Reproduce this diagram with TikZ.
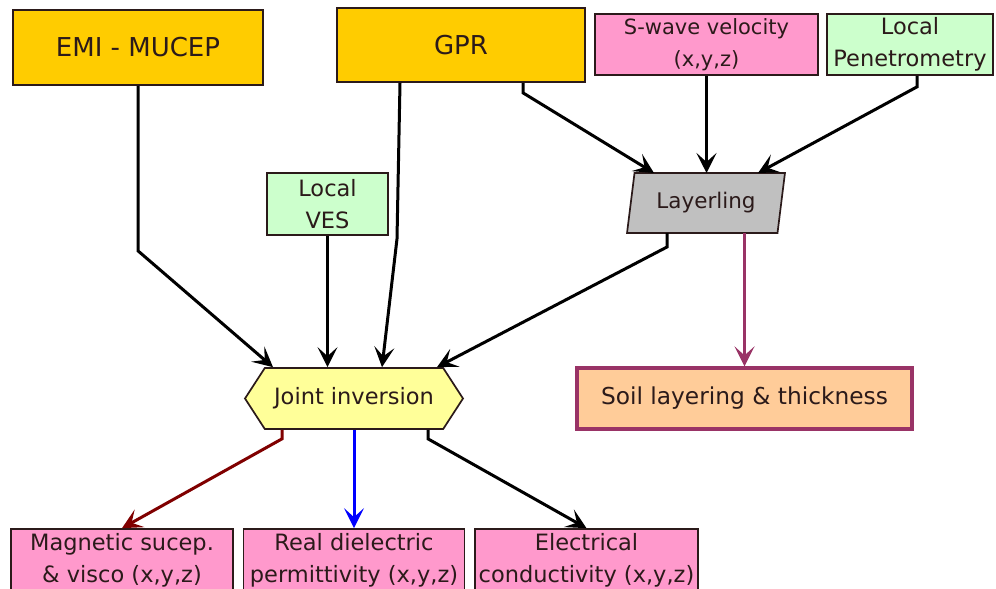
\documentclass[tikz,border=0pt]{standalone}
\usepackage{fontspec}
\setmainfont{DejaVu Sans}
\usetikzlibrary{arrows.meta,shapes.geometric,shapes.symbols}

\definecolor{gold}{HTML}{FFCC00}
\definecolor{pinkbox}{HTML}{FF99CC}
\definecolor{greenbox}{HTML}{CCFFCC}
\definecolor{graybox}{HTML}{C0C0C0}
\definecolor{yellowbox}{HTML}{FFFF99}
\definecolor{peach}{HTML}{FFCC99}
\definecolor{plum}{HTML}{993366}
\definecolor{darkred}{HTML}{800000}
\definecolor{ink}{HTML}{2B1A1A}

\begin{document}
\begin{tikzpicture}[x=1pt, y=-1pt,
  box/.style={draw=ink, line width=1.7pt, text=ink, inner sep=0pt, align=center,
    font=\fontsize{22.5}{32}\selectfont},
  arr/.style={line width=3pt, -{Stealth[length=20pt, width=20pt, inset=9pt]}}]
  \useasboundingbox[fill=white] (0,0) rectangle (996,589);
  \node[box, fill=gold, minimum width=250pt, minimum height=75pt, font=\fontsize{26}{32}\selectfont] (emi) at (138,47.5) {EMI - MUCEP};
  \node[box, fill=gold, minimum width=248pt, minimum height=74pt, font=\fontsize{26}{32}\selectfont] (gpr) at (461,45) {GPR};
  \node[box, fill=pinkbox, minimum width=223pt, minimum height=61pt, font=\fontsize{21}{32}\selectfont] (swave) at (706.5,44.5) {S-wave velocity\\(x,y,z)};
  \node[box, fill=greenbox, minimum width=166pt, minimum height=61pt] (pen) at (910,44.5) {Local\\Penetrometry};
  \node[box, fill=graybox, trapezium, trapezium left angle=76, trapezium right angle=104, trapezium stretches=true, minimum width=158pt, minimum height=60pt, font=\fontsize{21.5}{32}\selectfont] (layer) at (706,203) {Layerling};
  \node[box, fill=greenbox, minimum width=121pt, minimum height=62pt] (ves) at (327.5,204) {Local\\VES};
  \node[box, fill=yellowbox, signal, signal to=west and east, signal pointer angle=114, minimum width=218pt, minimum height=61pt] (joint) at (354,398.5) {Joint inversion};
  \node[box, fill=peach, draw=plum, line width=3.2pt, minimum width=335pt, minimum height=61pt, font=\fontsize{23.3}{32}\selectfont] (soil) at (744.5,398.5) {Soil layering \& thickness};
  \node[box, fill=pinkbox, minimum width=222pt, minimum height=62pt] (mag) at (122,560) {Magnetic sucep.\\\& visco (x,y,z)};
  \node[box, fill=pinkbox, minimum width=221pt, minimum height=62pt] (real) at (354,560) {Real dielectric\\permittivity (x,y,z)};
  \node[box, fill=pinkbox, minimum width=223pt, minimum height=62pt] (elec) at (586.5,560) {Electrical\\conductivity (x,y,z)};

  \draw[arr] (emi.south) -- ++(0,165) -- ([xshift=-81pt]joint.north);
  \draw[arr] (ves.south) -- (ves.south |- joint.north);
  \draw[arr] ([xshift=-61pt]gpr.south) -- ++(-3,156) -- ([xshift=28pt]joint.north);
  \draw[arr] ([xshift=-39pt,yshift=-30pt]layer.center) -- ++(0,14) -- ([xshift=83pt]joint.north);
  \draw[arr] ([xshift=62pt]gpr.south) -- ++(0,10) -- ([xshift=-52pt,yshift=30pt]layer.center);
  \draw[arr] (swave.south) -- ([xshift=0.5pt,yshift=30pt]layer.center);
  \draw[arr] ([xshift=7pt]pen.south) -- ++(0,11) -- ([xshift=52pt,yshift=30pt]layer.center);
  \draw[arr, plum] ([xshift=38.5pt,yshift=-30pt]layer.center) -- (soil.north);
  \draw[arr, darkred] ([xshift=-72pt]joint.south) -- ++(0,9) -- (mag.north);
  \draw[arr, blue] (joint.south) -- (real.north);
  \draw[arr] ([xshift=74pt]joint.south) -- ++(0,9) -- (elec.north);
\end{tikzpicture}
\end{document}
